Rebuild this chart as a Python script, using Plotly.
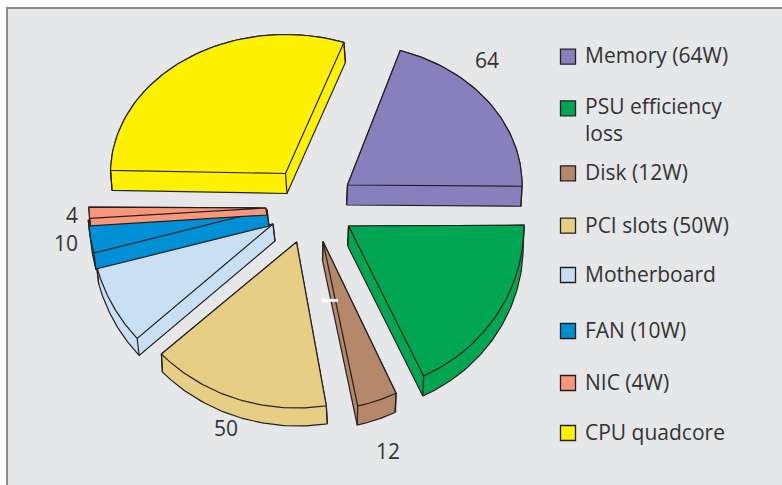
import math
import plotly.graph_objects as go

# ---- data ----
categories = ["Memory", "PSU efficiency loss", "Disk", "PCI slots", "Motherboard", "FAN", "NIC", "CPU quadcore"]
values = [64, 57, 12, 50, 24, 10, 4, 95]
legend_labels = ["Memory (64W)", "PSU efficiency<br>loss", "Disk (12W)", "PCI slots (50W)",
                 "Motherboard", "FAN (10W)", "NIC (4W)", "CPU quadcore"]
value_labels = ["64", "12", "50", "10", "4"]

# ---- styling and layout ----
colors = ["#8780BC", "#00A651", "#B5886B", "#E6CE85", "#C9E0F4", "#008FD5", "#F9977A", "#FFF200"]
INK = "#231F20"
TEXT = "#333333"
FONT = "Open Sans"
start_angle = 72.9
# exploded wedge geometry: apex x, apex y, radius x, radius y, depth dx, depth dy, angle nudge
centers_x = [347.5, 348.5, 323, 296.5, 273, 267, 266, 285.5]
centers_y = [185, 226, 241.5, 242, 224, 210, 208, 173.5]
radii_x = [174.5, 175.5, 170, 183, 182, 179, 177, 175]
radii_y = [141, 166, 168, 166, 172, 170, 147, 139]
depth_x = [-1, -0.8, -0.5, 1, 2, 2, 1, 1.5]
depth_y = [20, 20, 19, 18, 17, 16, 7, 20]
nudges = [-0.5, 0.3, 0.4, -2, -2.7, -2.2, -1.45, -2.4]
legend_x = 568
legend_text_x = 585
legend_y = [56.7, 108.3, 173.3, 225.7, 275, 331, 383, 433]
legend_text_y = [58, 122, 175, 227.5, 276.5, 332.5, 384.5, 434.5]
label_x = [487, 388, 226, 66, 72]
label_y = [63, 454, 431, 246, 218]


def convex_hull(points):
    pts = sorted(set(points))

    def cross(o, a, b):
        return (a[0] - o[0]) * (b[1] - o[1]) - (a[1] - o[1]) * (b[0] - o[0])

    lower, upper = [], []
    for p in pts:
        while len(lower) >= 2 and cross(lower[-2], lower[-1], p) <= 0:
            lower.pop()
        lower.append(p)
    for p in reversed(pts):
        while len(upper) >= 2 and cross(upper[-2], upper[-1], p) <= 0:
            upper.pop()
        upper.append(p)
    return lower[:-1] + upper[:-1]


fig = go.Figure()
deg_per_unit = 360 / sum(values)
angle = start_angle

for i, v in enumerate(values):
    a0 = angle + nudges[i]
    a1 = a0 - v * deg_per_unit
    angle -= v * deg_per_unit
    cx, cy, rx, ry = centers_x[i], centers_y[i], radii_x[i], radii_y[i]
    dx, dy = depth_x[i], depth_y[i]
    n = 60
    arc = []
    for k in range(n + 1):
        t = math.radians(a0 + (a1 - a0) * k / n)
        arc.append((cx + rx * math.cos(t), cy - ry * math.sin(t)))
    poly = [(cx, cy)] + arc

    # extruded body: silhouette of the top face swept by the depth
    hull = convex_hull(poly + [(p[0] + dx, p[1] + dy) for p in poly])
    hull.append(hull[0])
    fig.add_trace(go.Scatter(x=[p[0] for p in hull], y=[p[1] for p in hull], mode="lines",
                             fill="toself", fillcolor=colors[i], line=dict(color=INK, width=1.2),
                             hoverinfo="skip", showlegend=False))

    # vertical corner edges
    ex, ey = [], []
    for p in (poly[0], poly[1], poly[-1]):
        ex += [p[0], p[0] + dx, None]
        ey += [p[1], p[1] + dy, None]
    fig.add_trace(go.Scatter(x=ex, y=ey, mode="lines", line=dict(color=INK, width=1.2),
                             hoverinfo="skip", showlegend=False))

    # top face
    fig.add_trace(go.Scatter(x=[p[0] for p in poly] + [cx], y=[p[1] for p in poly] + [cy],
                             mode="lines", fill="toself", fillcolor=colors[i],
                             line=dict(color=INK, width=1.2), name=categories[i],
                             hoverinfo="name", showlegend=False))

# legend keys and texts
fig.add_trace(go.Scatter(x=[legend_x] * len(colors), y=legend_y, mode="markers",
                         marker=dict(symbol="square", size=15, color=colors, line=dict(color=INK, width=1.3)),
                         hoverinfo="skip", showlegend=False))
fig.add_trace(go.Scatter(x=[legend_text_x] * len(legend_labels), y=legend_text_y, mode="text",
                         text=legend_labels, textposition="middle right",
                         textfont=dict(family=FONT, size=21, color=TEXT),
                         hoverinfo="skip", showlegend=False))
# value labels
fig.add_trace(go.Scatter(x=label_x, y=label_y, mode="text", text=value_labels,
                         textposition="middle center",
                         textfont=dict(family=FONT, size=21, color=TEXT),
                         hoverinfo="skip", showlegend=False))

fig.update_layout(
    width=782, height=485, margin=dict(l=0, r=0, t=0, b=0),
    paper_bgcolor="white", plot_bgcolor="white",
    xaxis=dict(range=[0, 782], visible=False, fixedrange=True),
    yaxis=dict(range=[485, 0], visible=False, fixedrange=True),
    shapes=[
        dict(type="rect", xref="x", yref="y", x0=7, y0=8, x1=800, y1=510,
             fillcolor="#E6E7E9", line=dict(color="#8C8C8C", width=2), layer="below"),
        dict(type="line", xref="x", yref="y", x0=322, y0=300.4, x1=338, y1=300.4,
             line=dict(color="white", width=3), layer="above"),
    ],
)
fig.write_html("out.html", post_script="document.body.style.margin='0';document.body.style.overflow='hidden';",
               config={"displayModeBar": False})
